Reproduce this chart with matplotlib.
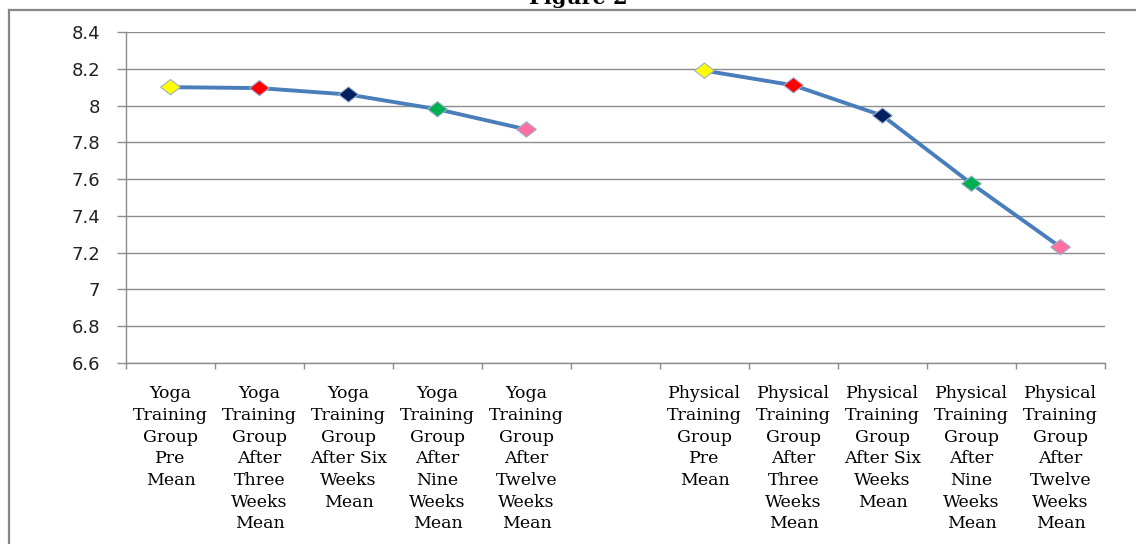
import numpy as np
import matplotlib
matplotlib.use("Agg")
import matplotlib.pyplot as plt
from matplotlib.lines import Line2D
from matplotlib.path import Path

# Category labels (the empty one separates the two groups)
categories = [
    "Yoga\nTraining\nGroup\nPre\nMean",
    "Yoga\nTraining\nGroup\nAfter\nThree\nWeeks\nMean",
    "Yoga\nTraining\nGroup\nAfter Six\nWeeks\nMean",
    "Yoga\nTraining\nGroup\nAfter\nNine\nWeeks\nMean",
    "Yoga\nTraining\nGroup\nAfter\nTwelve\nWeeks\nMean",
    "",
    "Physical\nTraining\nGroup\nPre\nMean",
    "Physical\nTraining\nGroup\nAfter\nThree\nWeeks\nMean",
    "Physical\nTraining\nGroup\nAfter Six\nWeeks\nMean",
    "Physical\nTraining\nGroup\nAfter\nNine\nWeeks\nMean",
    "Physical\nTraining\nGroup\nAfter\nTwelve\nWeeks\nMean",
]
yoga_means = [8.10, 8.095, 8.06, 7.98, 7.87]
physical_means = [8.19, 8.11, 7.945, 7.575, 7.23]
point_colors = ["#FFFF00", "#FF0000", "#002060", "#00B050", "#FF6F9F"]
y_ticks = [6.6, 6.8, 7.0, 7.2, 7.4, 7.6, 7.8, 8.0, 8.2, 8.4]
y_tick_labels = ["6.6", "6.8", "7", "7.2", "7.4", "7.6", "7.8", "8", "8.2", "8.4"]

values = np.array(yoga_means + [np.nan] + physical_means)
x = np.arange(len(categories))
colors = point_colors + ["none"] + point_colors

W, H = 1136, 544
fig = plt.figure(figsize=(W / 100, H / 100), dpi=100)
fig.patch.set_facecolor("white")

ax = fig.add_axes([126 / W, 1 - 363 / H, (1105 - 126) / W, (363 - 32) / H])
ax.set_facecolor("white")

grid_col = "#8C8C8C"
ax.set_ylim(6.6, 8.4)
ax.set_xlim(-0.5, len(categories) - 0.5)
ax.set_yticks(y_ticks)
ax.set_yticklabels(y_tick_labels, fontsize=13, family="DejaVu Sans", color="#222222")
ax.yaxis.grid(True, color=grid_col, linewidth=1.0)
ax.set_axisbelow(True)
ax.tick_params(axis="y", direction="out", length=6.5, width=1.0, color=grid_col, pad=12)

ax.set_xticks(x)
ax.set_xticklabels(categories, fontsize=12.5, family="DejaVu Serif",
                   color="#000000", linespacing=1.36)
ax.tick_params(axis="x", which="major", length=0, pad=16)
ax.set_xticks(np.arange(-0.5, len(categories)), minor=True)
ax.tick_params(axis="x", which="minor", direction="out", length=4, width=1.0, color=grid_col)

for side in ("top", "right"):
    ax.spines[side].set_visible(False)
for side in ("left", "bottom"):
    ax.spines[side].set_color(grid_col)
    ax.spines[side].set_linewidth(1.0)

# Connecting line for each group
ax.plot(x, values, color="#4A7EBB", linewidth=2.8, solid_capstyle="round", zorder=3)

# Diamond markers, slightly wider than tall
diamond = Path([(-1, 0), (0, 0.78), (1, 0), (0, -0.78), (-1, 0)],
               [Path.MOVETO, Path.LINETO, Path.LINETO, Path.LINETO, Path.CLOSEPOLY])
mask = ~np.isnan(values)
ax.scatter(x[mask], values[mask], marker=diamond, s=200,
           c=[c for c, m in zip(colors, mask) if m],
           edgecolors="#9BB0CC", linewidths=0.8, zorder=4)

# Outer frame and heading
frame_col = "#878787"
fig.add_artist(Line2D([9 / W, 9 / W], [0, 1 - 10 / H], color=frame_col, linewidth=1.6))
fig.add_artist(Line2D([9 / W, 1], [1 - 10 / H, 1 - 10 / H], color=frame_col, linewidth=1.6))
fig.text(578 / W, 1 - 4 / H, "Figure 2", ha="center", va="baseline",
         fontsize=15, fontweight="bold", family="DejaVu Serif")

fig.savefig("out.png", dpi=100, facecolor="white")
